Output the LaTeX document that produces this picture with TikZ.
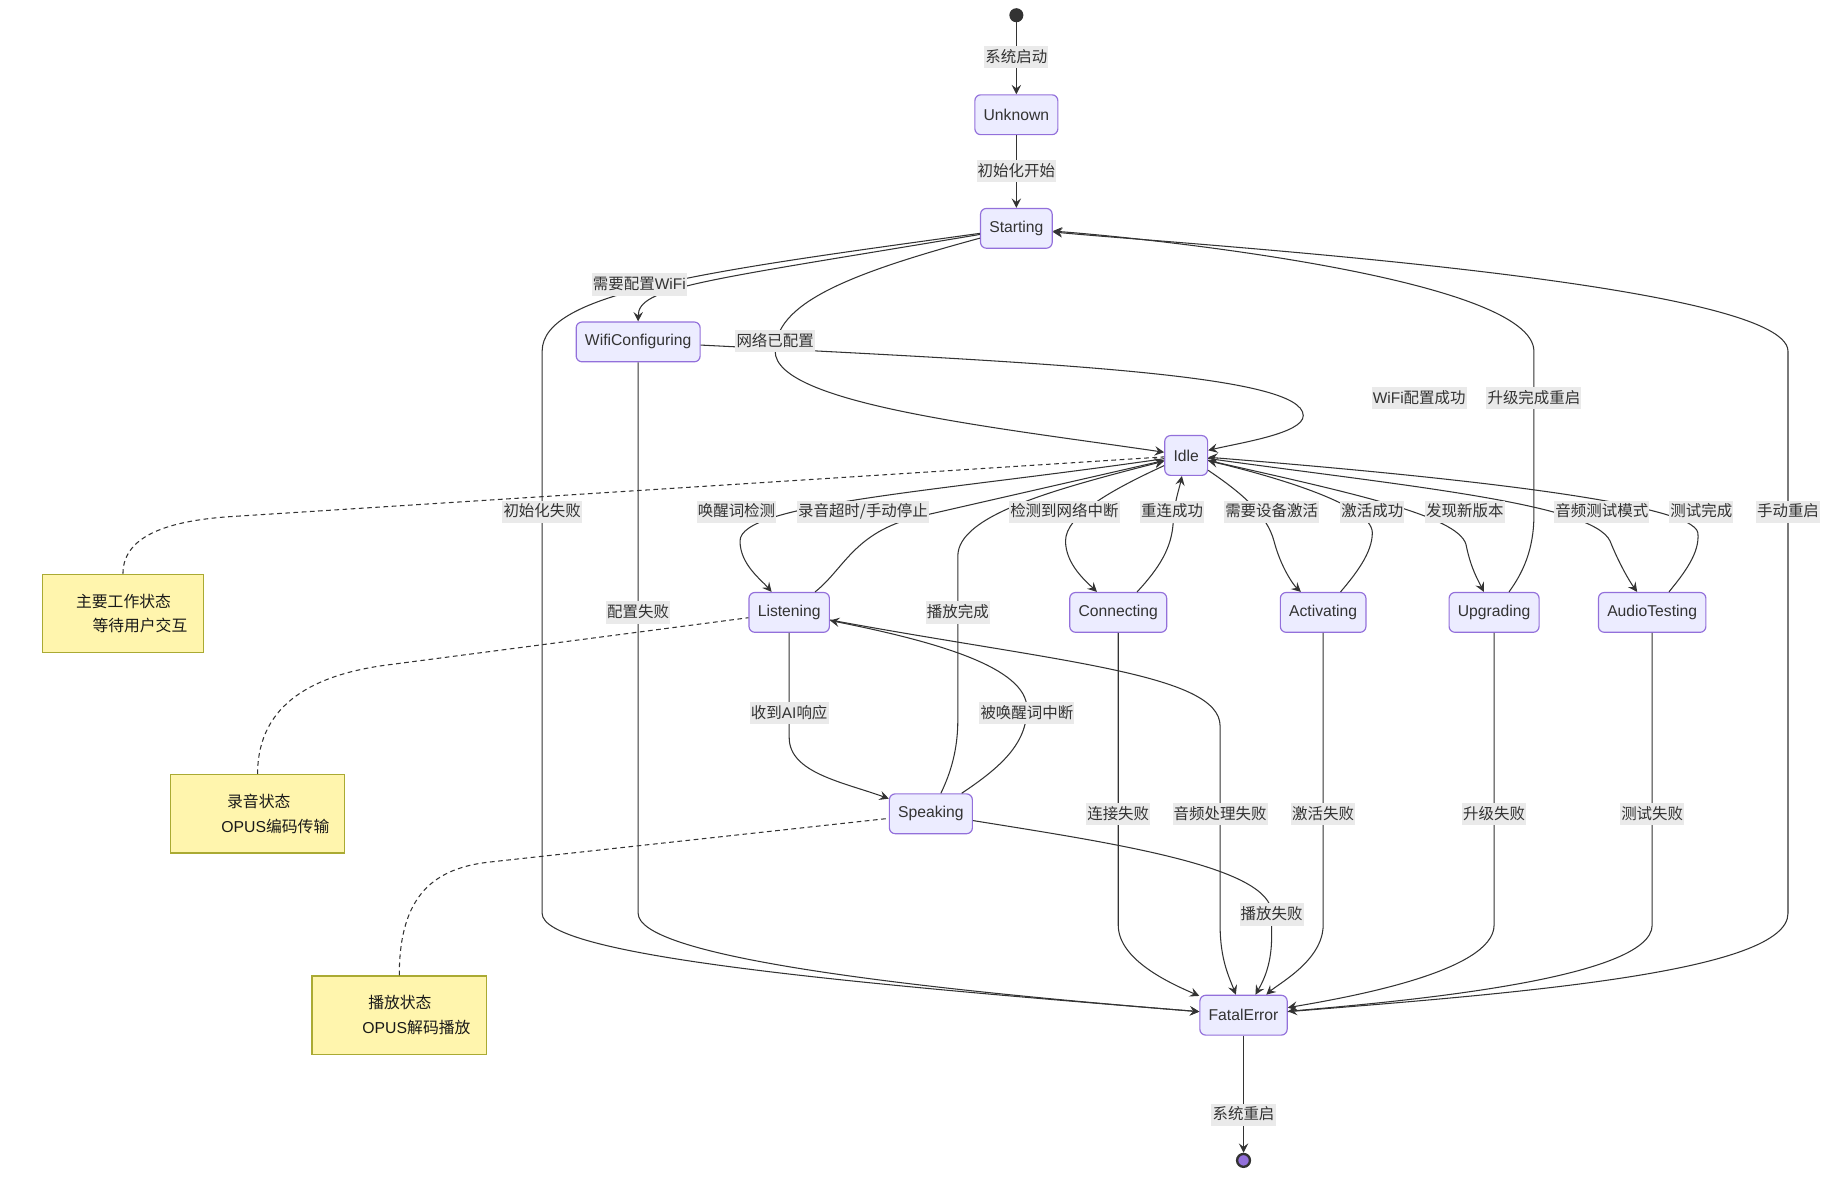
\documentclass[tikz,border=0pt]{standalone}
\usepackage{fontspec}
\setmainfont{Liberation Sans}
\newfontfamily\cjkfont{Noto Sans CJK SC}
\usepackage{tikz}
\usepackage{xcolor}
\usetikzlibrary{
    arrows.meta,
    positioning
}
\definecolor{stfill}{HTML}{ECECFF}
\definecolor{stline}{HTML}{9370DB}
\definecolor{notefill}{HTML}{FFF5AD}
\definecolor{noteline}{HTML}{AAAA33}
\definecolor{ink}{HTML}{333333}
\definecolor{lblbg}{HTML}{EAEAEA}
\newcommand{\latn}[1]{{\normalfont #1}}

\begin{document}
\begin{tikzpicture}[
                            x=1pt, y=-1pt,
                            state/.style={draw=stline, fill=stfill, line width=1pt, rounded corners=5pt,
                                minimum height=34pt, inner xsep=7.5pt, text=ink,
                                font=\fontsize{13.4}{16}\selectfont},
                            note/.style={draw=noteline, fill=notefill, line width=1pt, inner sep=0pt,
                                minimum height=67pt, align=left, text=black!90,
                                font=\cjkfont\fontsize{13.5}{21}\selectfont},
                            lbl/.style={fill=lblbg, inner xsep=1pt, inner ysep=2.5pt, text height=11.5pt,
                                text depth=2.5pt, text=ink, font=\cjkfont\fontsize{13.2}{16}\selectfont},
                            tr/.style={draw=ink, line width=0.9pt, -{Stealth[length=8pt, width=8pt, inset=3pt]}},
                            link/.style={draw=ink, line width=0.9pt, dash pattern=on 4pt off 3pt}
                        ]
                            \useasboundingbox (0, 0) rectangle (1568, 1008);

                            \node[circle, fill=ink, inner sep=0pt, minimum size=12pt] (s0) at (868, 13) {};
                            \node[circle, draw=ink, line width=2pt, fill=stline, inner sep=0pt, minimum size=11pt] (s1) at (1062, 991) {};

                            \node[state] (un) at (868, 98) {Unknown};
                            \node[state] (st) at (868, 195) {Starting};
                            \node[state] (wc) at (545, 292) {WifiConfiguring};
                            \node[state] (id) at (1013, 389) {Idle};
                            \node[state] (li) at (674, 523) {Listening};
                            \node[state] (co) at (955, 523) {Connecting};
                            \node[state] (ac) at (1130, 523) {Activating};
                            \node[state] (up) at (1276, 523) {Upgrading};
                            \node[state] (au) at (1411, 523) {AudioTesting};
                            \node[state] (sp) at (795, 695) {Speaking};
                            \node[state] (fe) at (1062, 867) {FatalError};

                            \node[note, text width=138pt, minimum width=138pt] (n1) at (105, 524)
                                {\hspace*{29pt}主要工作状态\\\hspace*{43pt}等待用户交互};
                            \node[note, text width=149pt, minimum width=149pt] (n2) at (220, 695)
                                {\hspace*{48.5pt}录音状态\\\hspace*{43.5pt}\latn{OPUS}编码传输};
                            \node[note, text width=149pt, minimum width=149pt] (n3) at (341, 867)
                                {\hspace*{48pt}播放状态\\\hspace*{43pt}\latn{OPUS}解码播放};

                            \draw[link] (n1) .. controls (105, 455) and (150, 444) .. (200, 441) -- (id);
                            \draw[link] (n2) .. controls (220, 600) and (270, 576) .. (330, 568) -- (li);
                            \draw[link] (n3) .. controls (341, 765) and (370, 741) .. (420, 736) -- (sp);

                            \draw[tr] (s0) -- (un);
                            \draw[tr] (un) -- (st);
                            \draw[tr] (st) .. controls (600, 240) and (545, 245) .. (wc);
                            \draw[tr] (st) .. controls (720, 235) and (662, 260) .. (662, 300)
                                .. controls (662, 345) and (850, 365) .. (id);
                            \draw[tr] (wc) .. controls (900, 310) and (1113, 320) .. (1113, 355)
                                .. controls (1113, 370) and (1060, 378) .. (id);
                            \draw[tr] (st) .. controls (600, 232) and (463, 250) .. (463, 300) -- (463, 780)
                                .. controls (463, 815) and (700, 838) .. (fe);
                            \draw[tr] (wc) -- (545, 780) .. controls (545, 815) and (750, 842) .. (fe);

                            \draw[tr] (id) .. controls (800, 420) and (632, 430) .. (632, 462)
                                .. controls (632, 482) and (650, 495) .. (li);
                            \draw[tr] (li) .. controls (722, 485) and (730, 452) .. (790, 440) -- (id);
                            \draw[tr] (li) -- (674, 630) .. controls (674, 660) and (720, 668) .. (sp);
                            \draw[tr] (sp) .. controls (812, 660) and (818, 640) .. (818, 615) -- (818, 475)
                                .. controls (818, 440) and (900, 418) .. (id);
                            \draw[tr] (sp) .. controls (855, 655) and (877, 635) .. (877, 605)
                                .. controls (877, 570) and (800, 548) .. (li);
                            \draw[tr] (li) .. controls (900, 565) and (1042, 575) .. (1042, 620) -- (1042, 790)
                                .. controls (1042, 820) and (1050, 835) .. (fe);
                            \draw[tr] (sp) .. controls (950, 720) and (1086, 740) .. (1086, 780) -- (1086, 800)
                                .. controls (1086, 822) and (1080, 836) .. (fe);

                            \draw[tr] (id) .. controls (950, 418) and (910, 440) .. (910, 462)
                                .. controls (910, 482) and (928, 497) .. (co);
                            \draw[tr] (co) .. controls (990, 485) and (1001, 468) .. (1002, 445)
                                .. controls (1003, 428) and (1007, 418) .. (id);
                            \draw[tr] (co) -- (955, 790) .. controls (955, 820) and (1000, 840) .. (fe);

                            \draw[tr] (id) .. controls (1062, 422) and (1082, 440) .. (1088, 462)
                                .. controls (1094, 485) and (1105, 500) .. (ac);
                            \draw[tr] (ac) .. controls (1158, 490) and (1172, 472) .. (1172, 455)
                                .. controls (1172, 430) and (1080, 405) .. (id);
                            \draw[tr] (ac) -- (1130, 790) .. controls (1130, 820) and (1092, 840) .. (fe);

                            \draw[tr] (id) .. controls (1150, 420) and (1245, 440) .. (1252, 465)
                                .. controls (1256, 485) and (1262, 495) .. (up);
                            \draw[tr] (up) .. controls (1300, 490) and (1310, 470) .. (1310, 440) -- (1310, 300)
                                .. controls (1310, 240) and (1000, 205) .. (st);
                            \draw[tr] (up) -- (1276, 790) .. controls (1276, 830) and (1150, 852) .. (fe);

                            \draw[tr] (id) .. controls (1200, 415) and (1360, 430) .. (1375, 462)
                                .. controls (1383, 482) and (1392, 497) .. (au);
                            \draw[tr] (au) .. controls (1438, 490) and (1452, 472) .. (1450, 455)
                                .. controls (1446, 430) and (1250, 408) .. (id);
                            \draw[tr] (au) -- (1411, 790) .. controls (1411, 836) and (1200, 855) .. (fe);

                            \draw[tr] (fe) .. controls (1300, 848) and (1527, 830) .. (1527, 780) -- (1527, 300)
                                .. controls (1527, 240) and (1000, 208) .. (st);
                            \draw[tr] (fe) -- (s1);

                            \node[lbl] (boot) at (868, 49) {系统启动};
                            \node[lbl] (init) at (868, 146) {初始化开始};
                            \node[lbl] (needwifi) at (546, 243) {需要配置\latn{WiFi}};
                            \node[lbl] (netok) at (662, 291) {网络已配置};
                            \node[lbl] (wifiok) at (1212, 340) {\latn{WiFi}配置成功};
                            \node[lbl] (upreboot) at (1310, 340) {升级完成重启};
                            \node[lbl] (initfail) at (463, 437) {初始化失败};
                            \node[lbl] (wake) at (629, 437) {唤醒词检测};
                            \node[lbl] (stoprec) at (737, 437) {录音超时/手动停止};
                            \node[lbl] (netlost) at (909, 437) {检测到网络中断};
                            \node[lbl] (reconn) at (1001, 437) {重连成功};
                            \node[lbl] (needact) at (1086, 437) {需要设备激活};
                            \node[lbl] (actok) at (1172, 437) {激活成功};
                            \node[lbl] (newver) at (1251, 437) {发现新版本};
                            \node[lbl] (audmode) at (1368, 437) {音频测试模式};
                            \node[lbl] (testok) at (1453, 437) {测试完成};
                            \node[lbl] (manual) at (1527, 437) {手动重启};
                            \node[lbl] (cfgfail) at (545, 523) {配置失败};
                            \node[lbl] (playok) at (818, 523) {播放完成};
                            \node[lbl] (gotai) at (674, 609) {收到\latn{AI}响应};
                            \node[lbl] (interrupt) at (877, 609) {被唤醒词中断};
                            \node[lbl] (connfail) at (955, 695) {连接失败};
                            \node[lbl] (audfail) at (1042, 695) {音频处理失败};
                            \node[lbl] (actfail) at (1130, 695) {激活失败};
                            \node[lbl] (upfail) at (1276, 695) {升级失败};
                            \node[lbl] (testfail) at (1411, 695) {测试失败};
                            \node[lbl] (playfail) at (1086, 781) {播放失败};
                            \node[lbl] (reboot) at (1062, 952) {系统重启};
                        \end{tikzpicture}
\end{document}
